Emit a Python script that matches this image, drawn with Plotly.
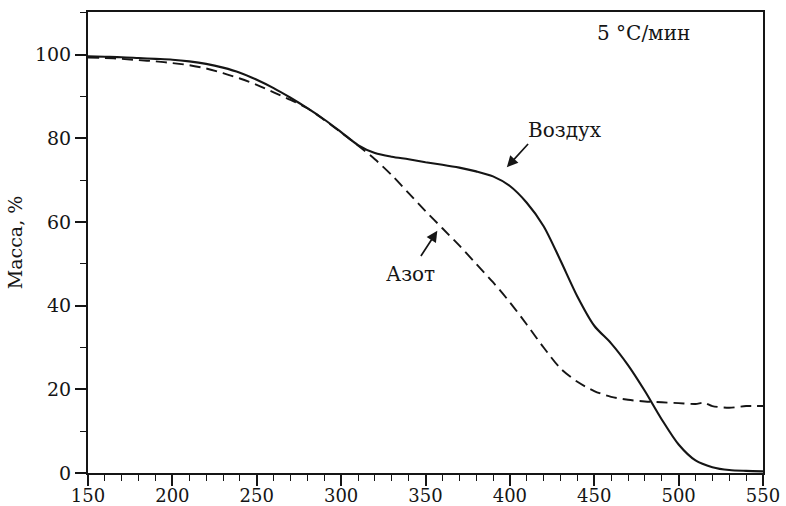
import plotly.graph_objects as go

# Thermogravimetric curves, heating rate 5 °C/min
temp_air = [150, 160, 170, 180, 190, 200, 210, 220, 230, 240, 250, 260, 270, 280, 290, 300,
            310, 320, 330, 340, 350, 360, 370, 380, 390, 400, 410, 420, 430, 440, 450, 460,
            470, 480, 490, 500, 510, 520, 530, 540, 550]
mass_air = [99.6, 99.5, 99.4, 99.2, 99.0, 98.8, 98.4, 97.8, 96.9, 95.7, 94.0, 92.0, 89.7, 87.2,
            84.5, 81.5, 78.4, 76.5, 75.6, 75.0, 74.3, 73.7, 73.0, 72.1, 70.9, 68.6, 64.6, 59.0,
            50.8, 42.2, 35.2, 31.0, 25.8, 19.6, 12.8, 6.8, 3.0, 1.4, 0.7, 0.5, 0.4]

temp_n2 = [150, 160, 170, 180, 190, 200, 210, 220, 230, 240, 250, 260, 270, 280, 290, 300,
           310, 320, 330, 340, 350, 360, 370, 380, 390, 400, 410, 420, 430, 440, 450, 460,
           470, 480, 490, 500, 510, 515, 520, 530, 540, 550]
mass_n2 = [99.3, 99.2, 99.0, 98.7, 98.4, 98.0, 97.5, 96.7, 95.6, 94.3, 92.8, 91.0, 89.2, 87.2,
           84.4, 81.4, 78.3, 75.0, 71.2, 66.9, 62.6, 58.5, 54.4, 50.0, 45.6, 40.8, 35.5, 30.0,
           25.0, 21.8, 19.6, 18.2, 17.5, 17.1, 16.9, 16.7, 16.5, 16.8, 16.0, 15.6, 16.0, 16.0]

x_ticks = [150, 200, 250, 300, 350, 400, 450, 500, 550]
y_ticks = [0, 20, 40, 60, 80, 100]

ink = "#151515"
serif = "DejaVu Serif"

fig = go.Figure()
fig.add_trace(go.Scatter(x=temp_n2, y=mass_n2, mode="lines", name="Азот",
                         line=dict(color=ink, width=1.9, dash="11px,6px", shape="spline",
                                   smoothing=0.8)))
fig.add_trace(go.Scatter(x=temp_air, y=mass_air, mode="lines", name="Воздух",
                         line=dict(color=ink, width=2.1, shape="spline", smoothing=0.8)))

fig.add_annotation(x=479, y=105.2, text="5 °C/мин", showarrow=False,
                   font=dict(family=serif, size=20, color=ink))
fig.add_annotation(x=432.8, y=82.1, text="Воздух", showarrow=False,
                   font=dict(family=serif, size=20, color=ink))
fig.add_annotation(x=398.2, y=73.1, ax=411.6, ay=79.0, axref="x", ayref="y", text="",
                   showarrow=True, arrowhead=2, arrowsize=1.3, arrowwidth=1.7,
                   arrowcolor=ink)
fig.add_annotation(x=341.4, y=47.5, text="Азот", showarrow=False,
                   font=dict(family=serif, size=20, color=ink))
fig.add_annotation(x=357.0, y=57.9, ax=346.7, ay=51.5, axref="x", ayref="y", text="",
                   showarrow=True, arrowhead=2, arrowsize=1.3, arrowwidth=1.7,
                   arrowcolor=ink)

axis_common = dict(showgrid=False, zeroline=False, showline=True, linecolor=ink, linewidth=2,
                   mirror=True, ticks="outside", ticklen=11, tickwidth=1.6, tickcolor=ink,
                   automargin=False)

fig.update_xaxes(range=[150, 550], tickvals=x_ticks, ticktext=[str(v) for v in x_ticks],
                 minor=dict(dtick=10, tick0=150, ticks="outside", ticklen=6, tickwidth=1.4,
                            tickcolor=ink),
                 tickfont=dict(family=serif, size=18, color=ink), ticklabelstandoff=-6,
                 **axis_common)
fig.update_yaxes(range=[0, 110.2], tickvals=y_ticks, ticktext=[str(v) for v in y_ticks],
                 minor=dict(dtick=10, tick0=0, ticks="outside", ticklen=6, tickwidth=1.4,
                            tickcolor=ink),
                 tickfont=dict(family=serif, size=19, color=ink),
                 title=dict(text="Масса, %", font=dict(family=serif, size=19, color=ink),
                            standoff=7),
                 **axis_common)

fig.update_layout(width=786, height=506, showlegend=False,
                  paper_bgcolor="white", plot_bgcolor="white",
                  margin=dict(l=88, r=23, t=12, b=33))

fig.write_html("out.html")
